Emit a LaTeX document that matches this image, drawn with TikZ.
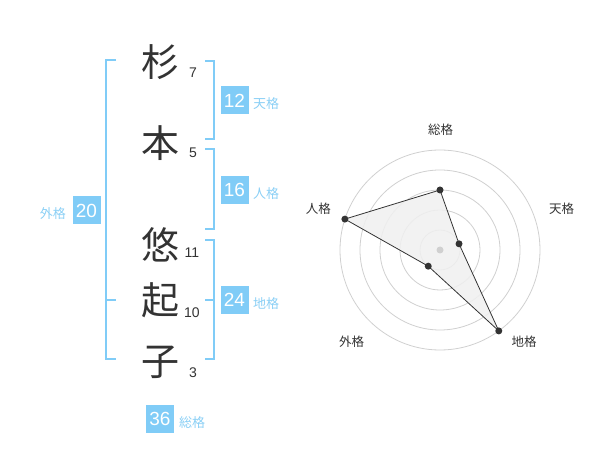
\documentclass[tikz,border=0pt]{standalone}
\usepackage{fontspec}
\setmainfont{Liberation Sans}
\newfontfamily\jp{Noto Sans CJK JP}
\definecolor{ink}{HTML}{333333}
\definecolor{sky}{HTML}{80CCF7}
\definecolor{skytext}{HTML}{8ACFF5}
\definecolor{ring}{HTML}{D0D0D0}
\definecolor{area}{HTML}{F0F0F0}
\begin{document}
\begin{tikzpicture}[x=1pt,y=-1pt,
    kanji/.style={text=ink,font=\jp\fontsize{38}{38}\selectfont,inner sep=0pt},
    strokes/.style={text=ink,font=\fontsize{14}{14}\selectfont,inner sep=0pt},
    score/.style={fill=sky,text=white,minimum size=28pt,inner sep=0pt,
        font=\fontsize{19}{19}\selectfont},
    kaku/.style={text=skytext,font=\jp\fontsize{13}{13}\selectfont,inner sep=0pt},
    brk/.style={draw=sky,line width=2pt},
    axis/.style={text=ink,font=\jp\fontsize{12.5}{12.5}\selectfont,inner sep=0pt},
    dot/.style={fill=ink,circle,minimum size=7pt,inner sep=0pt}]

    \useasboundingbox (0,0) rectangle (600,470);

    % name and stroke counts
    \node[kanji] (k1) at (160,62) {杉};
    \node[kanji] (k2) at (160,143) {本};
    \node[kanji] (k3) at (160,245) {悠};
    \node[kanji] (k4) at (160,300) {起};
    \node[kanji] (k5) at (160,362) {子};
    \node[strokes] (s1) at (193,73) {7};
    \node[strokes] (s2) at (193,153) {5};
    \node[strokes] (s3) at (192,253) {11};
    \node[strokes] (s4) at (192,313) {10};
    \node[strokes] (s5) at (193,373) {3};

    % brackets
    \draw[brk] (116,60) -- (105.7,60) -- (105.7,359.3) -- (116,359.3);
    \draw[brk] (105.7,300) -- (116,300);
    \draw[brk] (205,60.7) -- (214.3,60.7) -- (214.3,139.3) -- (205,139.3);
    \draw[brk] (205,149.3) -- (214.3,149.3) -- (214.3,229.3) -- (205,229.3);
    \draw[brk] (205,240) -- (214.3,240) -- (214.3,359.3) -- (205,359.3);
    \draw[brk] (205,300) -- (214.3,300);

    % scores
    \node[score] (ten) at (234.5,100.5) {12};
    \node[kaku,anchor=west] (tenl) at (253,104) {天格};
    \node[score] (jin) at (234.5,190) {16};
    \node[kaku,anchor=west] (jinl) at (253,193.5) {人格};
    \node[score] (chi) at (234.5,300) {24};
    \node[kaku,anchor=west] (chil) at (253,304) {地格};
    \node[score] (gai) at (86.5,210.5) {20};
    \node[kaku,anchor=east] (gail) at (66,214) {外格};
    \node[score] (sou) at (160,419) {36};
    \node[kaku,anchor=west] (soul) at (179,422.7) {総格};

    % radar
    \coordinate (c) at (440,250);
    \foreach \r in {20,40,60,80,100}
        \draw[ring,line width=0.8pt] (c) circle (\r);
    \coordinate (p1) at ([shift={(-90:60)}]c);
    \coordinate (p2) at ([shift={(-18:20)}]c);
    \coordinate (p3) at ([shift={(54:100)}]c);
    \coordinate (p4) at ([shift={(126:20)}]c);
    \coordinate (p5) at ([shift={(198:100)}]c);
    \draw[ink,fill=area,fill opacity=0.85,line width=0.8pt]
        (p1) -- (p2) -- (p3) -- (p4) -- (p5) -- cycle;
    \node[fill=ring,circle,minimum size=7pt,inner sep=0pt] (o) at (c) {};
    \foreach \p in {p1,p2,p3,p4,p5}
        \node[dot] at (\p) {};
    \node[axis] (a1) at (440.5,130) {総格};
    \node[axis] (a2) at (561.7,209) {天格};
    \node[axis] (a3) at (524,341.7) {地格};
    \node[axis] (a4) at (351.7,341.7) {外格};
    \node[axis] (a5) at (318.3,209) {人格};

\end{tikzpicture}
\end{document}
